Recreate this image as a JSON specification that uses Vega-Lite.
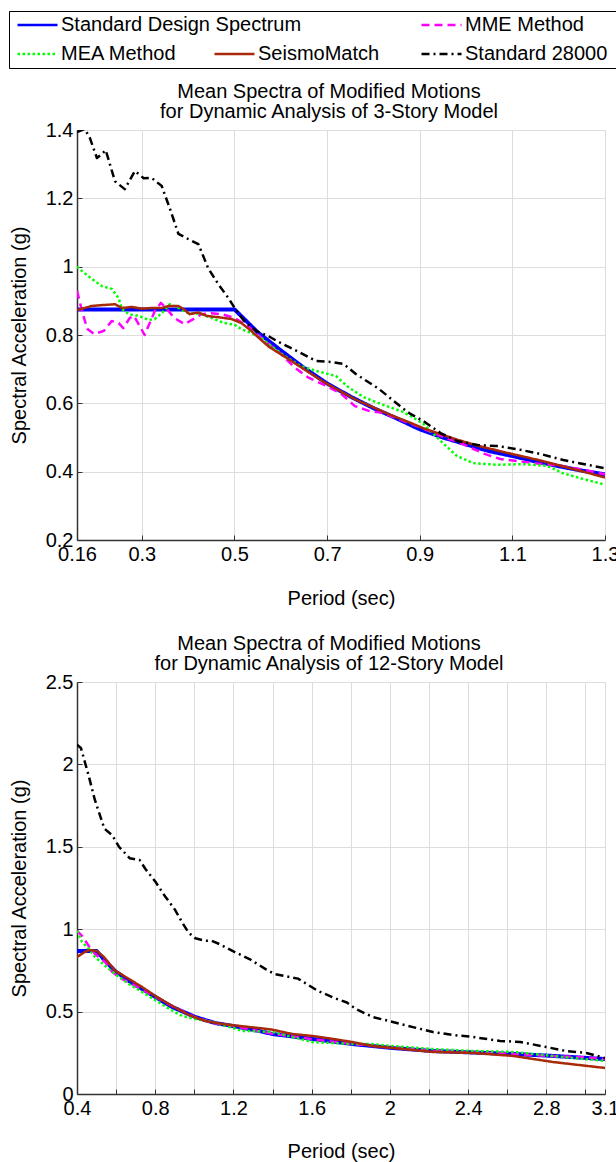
{
  "$schema": "https://vega.github.io/schema/vega-lite/v6.json",
  "padding": {"left": 8, "top": 10, "right": 0, "bottom": 0},
  "background": "white",
  "config": {
    "font": "Liberation Sans",
    "view": {"stroke": "#d4d4d4", "strokeWidth": 1},
    "axis": {
      "labelFont": "Liberation Sans", "labelFontSize": 20, "labelColor": "#000",
      "titleFont": "Liberation Sans", "titleFontSize": 20, "titleFontWeight": "normal", "titleColor": "#000",
      "gridColor": "#dddddd", "gridWidth": 1, "domainColor": "#333333", "domainWidth": 1.5,
      "tickColor": "#333333", "tickSize": -5, "labelPadding": 9, "labelFlush": false, "labelOverlap": false
    },
    "title": {"font": "Liberation Sans", "fontSize": 20, "fontWeight": "normal", "color": "#000", "lineHeight": 20, "offset": -2, "dx": -12, "frame": "group"},
    "legend": {"symbolType": "stroke", "symbolSize": 1600, "symbolStrokeWidth": 2.5, "labelFont": "Liberation Sans", "labelFontSize": 20,
               "labelColor": "#000", "labelOffset": 2, "labelLimit": 400, "padding": 0, "rowPadding": 9, "clipHeight": 20}
  },
  "datasets": {
    "m3": [
      {"s":"Standard Design Spectrum","T":0.16,"Sa":0.875},{"s":"Standard Design Spectrum","T":0.5,"Sa":0.875},{"s":"Standard Design Spectrum","T":0.55,"Sa":0.808},{"s":"Standard Design Spectrum","T":0.6,"Sa":0.755},{"s":"Standard Design Spectrum","T":0.65,"Sa":0.704},{"s":"Standard Design Spectrum","T":0.7,"Sa":0.658},{"s":"Standard Design Spectrum","T":0.75,"Sa":0.62},{"s":"Standard Design Spectrum","T":0.8,"Sa":0.586},{"s":"Standard Design Spectrum","T":0.85,"Sa":0.556},{"s":"Standard Design Spectrum","T":0.9,"Sa":0.524},{"s":"Standard Design Spectrum","T":0.95,"Sa":0.5},{"s":"Standard Design Spectrum","T":1.0,"Sa":0.48},{"s":"Standard Design Spectrum","T":1.05,"Sa":0.46},{"s":"Standard Design Spectrum","T":1.1,"Sa":0.446},{"s":"Standard Design Spectrum","T":1.15,"Sa":0.43},{"s":"Standard Design Spectrum","T":1.2,"Sa":0.416},{"s":"Standard Design Spectrum","T":1.25,"Sa":0.403},{"s":"Standard Design Spectrum","T":1.3,"Sa":0.392},
      {"s":"MME Method","T":0.16,"Sa":0.929},{"s":"MME Method","T":0.171,"Sa":0.87},{"s":"MME Method","T":0.182,"Sa":0.818},{"s":"MME Method","T":0.197,"Sa":0.803},{"s":"MME Method","T":0.218,"Sa":0.812},{"s":"MME Method","T":0.235,"Sa":0.841},{"s":"MME Method","T":0.25,"Sa":0.835},{"s":"MME Method","T":0.26,"Sa":0.82},{"s":"MME Method","T":0.274,"Sa":0.85},{"s":"MME Method","T":0.283,"Sa":0.856},{"s":"MME Method","T":0.293,"Sa":0.832},{"s":"MME Method","T":0.306,"Sa":0.8},{"s":"MME Method","T":0.328,"Sa":0.87},{"s":"MME Method","T":0.341,"Sa":0.894},{"s":"MME Method","T":0.354,"Sa":0.876},{"s":"MME Method","T":0.37,"Sa":0.85},{"s":"MME Method","T":0.392,"Sa":0.832},{"s":"MME Method","T":0.412,"Sa":0.847},{"s":"MME Method","T":0.429,"Sa":0.861},{"s":"MME Method","T":0.45,"Sa":0.864},{"s":"MME Method","T":0.472,"Sa":0.861},{"s":"MME Method","T":0.5,"Sa":0.85},{"s":"MME Method","T":0.53,"Sa":0.825},{"s":"MME Method","T":0.56,"Sa":0.79},{"s":"MME Method","T":0.6,"Sa":0.745},{"s":"MME Method","T":0.63,"Sa":0.705},{"s":"MME Method","T":0.66,"Sa":0.675},{"s":"MME Method","T":0.7,"Sa":0.65},{"s":"MME Method","T":0.73,"Sa":0.628},{"s":"MME Method","T":0.76,"Sa":0.592},{"s":"MME Method","T":0.79,"Sa":0.578},{"s":"MME Method","T":0.82,"Sa":0.572},{"s":"MME Method","T":0.85,"Sa":0.556},{"s":"MME Method","T":0.9,"Sa":0.53},{"s":"MME Method","T":0.95,"Sa":0.502},{"s":"MME Method","T":0.98,"Sa":0.488},{"s":"MME Method","T":1.01,"Sa":0.47},{"s":"MME Method","T":1.04,"Sa":0.452},{"s":"MME Method","T":1.074,"Sa":0.437},{"s":"MME Method","T":1.11,"Sa":0.431},{"s":"MME Method","T":1.153,"Sa":0.424},{"s":"MME Method","T":1.2,"Sa":0.418},{"s":"MME Method","T":1.252,"Sa":0.406},{"s":"MME Method","T":1.3,"Sa":0.392},
      {"s":"MEA Method","T":0.16,"Sa":1.0},{"s":"MEA Method","T":0.171,"Sa":0.987},{"s":"MEA Method","T":0.192,"Sa":0.964},{"s":"MEA Method","T":0.214,"Sa":0.943},{"s":"MEA Method","T":0.235,"Sa":0.935},{"s":"MEA Method","T":0.25,"Sa":0.908},{"s":"MEA Method","T":0.257,"Sa":0.876},{"s":"MEA Method","T":0.272,"Sa":0.861},{"s":"MEA Method","T":0.293,"Sa":0.856},{"s":"MEA Method","T":0.315,"Sa":0.844},{"s":"MEA Method","T":0.328,"Sa":0.847},{"s":"MEA Method","T":0.343,"Sa":0.864},{"s":"MEA Method","T":0.36,"Sa":0.89},{"s":"MEA Method","T":0.379,"Sa":0.879},{"s":"MEA Method","T":0.4,"Sa":0.864},{"s":"MEA Method","T":0.429,"Sa":0.861},{"s":"MEA Method","T":0.45,"Sa":0.85},{"s":"MEA Method","T":0.478,"Sa":0.835},{"s":"MEA Method","T":0.5,"Sa":0.83},{"s":"MEA Method","T":0.515,"Sa":0.817},{"s":"MEA Method","T":0.536,"Sa":0.806},{"s":"MEA Method","T":0.558,"Sa":0.791},{"s":"MEA Method","T":0.579,"Sa":0.768},{"s":"MEA Method","T":0.609,"Sa":0.738},{"s":"MEA Method","T":0.643,"Sa":0.709},{"s":"MEA Method","T":0.676,"Sa":0.695},{"s":"MEA Method","T":0.719,"Sa":0.68},{"s":"MEA Method","T":0.745,"Sa":0.648},{"s":"MEA Method","T":0.779,"Sa":0.618},{"s":"MEA Method","T":0.82,"Sa":0.596},{"s":"MEA Method","T":0.86,"Sa":0.577},{"s":"MEA Method","T":0.88,"Sa":0.563},{"s":"MEA Method","T":0.908,"Sa":0.54},{"s":"MEA Method","T":0.945,"Sa":0.49},{"s":"MEA Method","T":0.98,"Sa":0.446},{"s":"MEA Method","T":1.016,"Sa":0.425},{"s":"MEA Method","T":1.067,"Sa":0.42},{"s":"MEA Method","T":1.123,"Sa":0.422},{"s":"MEA Method","T":1.175,"Sa":0.417},{"s":"MEA Method","T":1.21,"Sa":0.395},{"s":"MEA Method","T":1.252,"Sa":0.379},{"s":"MEA Method","T":1.3,"Sa":0.362},
      {"s":"SeismoMatch","T":0.16,"Sa":0.873},{"s":"SeismoMatch","T":0.192,"Sa":0.885},{"s":"SeismoMatch","T":0.22,"Sa":0.888},{"s":"SeismoMatch","T":0.242,"Sa":0.89},{"s":"SeismoMatch","T":0.257,"Sa":0.879},{"s":"SeismoMatch","T":0.278,"Sa":0.882},{"s":"SeismoMatch","T":0.3,"Sa":0.877},{"s":"SeismoMatch","T":0.321,"Sa":0.879},{"s":"SeismoMatch","T":0.343,"Sa":0.879},{"s":"SeismoMatch","T":0.358,"Sa":0.885},{"s":"SeismoMatch","T":0.379,"Sa":0.885},{"s":"SeismoMatch","T":0.39,"Sa":0.876},{"s":"SeismoMatch","T":0.403,"Sa":0.861},{"s":"SeismoMatch","T":0.422,"Sa":0.866},{"s":"SeismoMatch","T":0.44,"Sa":0.856},{"s":"SeismoMatch","T":0.465,"Sa":0.852},{"s":"SeismoMatch","T":0.493,"Sa":0.847},{"s":"SeismoMatch","T":0.515,"Sa":0.835},{"s":"SeismoMatch","T":0.536,"Sa":0.812},{"s":"SeismoMatch","T":0.558,"Sa":0.785},{"s":"SeismoMatch","T":0.575,"Sa":0.765},{"s":"SeismoMatch","T":0.609,"Sa":0.736},{"s":"SeismoMatch","T":0.65,"Sa":0.7},{"s":"SeismoMatch","T":0.69,"Sa":0.665},{"s":"SeismoMatch","T":0.72,"Sa":0.642},{"s":"SeismoMatch","T":0.76,"Sa":0.612},{"s":"SeismoMatch","T":0.8,"Sa":0.588},{"s":"SeismoMatch","T":0.837,"Sa":0.566},{"s":"SeismoMatch","T":0.88,"Sa":0.543},{"s":"SeismoMatch","T":0.908,"Sa":0.527},{"s":"SeismoMatch","T":0.98,"Sa":0.494},{"s":"SeismoMatch","T":1.025,"Sa":0.476},{"s":"SeismoMatch","T":1.089,"Sa":0.455},{"s":"SeismoMatch","T":1.16,"Sa":0.433},{"s":"SeismoMatch","T":1.231,"Sa":0.408},{"s":"SeismoMatch","T":1.3,"Sa":0.383},
      {"s":"Standard 28000","T":0.16,"Sa":1.394},{"s":"Standard 28000","T":0.177,"Sa":1.403},{"s":"Standard 28000","T":0.188,"Sa":1.376},{"s":"Standard 28000","T":0.203,"Sa":1.318},{"s":"Standard 28000","T":0.214,"Sa":1.33},{"s":"Standard 28000","T":0.222,"Sa":1.341},{"s":"Standard 28000","T":0.231,"Sa":1.3},{"s":"Standard 28000","T":0.242,"Sa":1.25},{"s":"Standard 28000","T":0.263,"Sa":1.227},{"s":"Standard 28000","T":0.285,"Sa":1.28},{"s":"Standard 28000","T":0.304,"Sa":1.259},{"s":"Standard 28000","T":0.321,"Sa":1.26},{"s":"Standard 28000","T":0.343,"Sa":1.236},{"s":"Standard 28000","T":0.36,"Sa":1.172},{"s":"Standard 28000","T":0.379,"Sa":1.096},{"s":"Standard 28000","T":0.4,"Sa":1.081},{"s":"Standard 28000","T":0.422,"Sa":1.066},{"s":"Standard 28000","T":0.443,"Sa":0.996},{"s":"Standard 28000","T":0.465,"Sa":0.949},{"s":"Standard 28000","T":0.487,"Sa":0.908},{"s":"Standard 28000","T":0.5,"Sa":0.88},{"s":"Standard 28000","T":0.521,"Sa":0.841},{"s":"Standard 28000","T":0.547,"Sa":0.812},{"s":"Standard 28000","T":0.573,"Sa":0.797},{"s":"Standard 28000","T":0.592,"Sa":0.782},{"s":"Standard 28000","T":0.635,"Sa":0.753},{"s":"Standard 28000","T":0.676,"Sa":0.724},{"s":"Standard 28000","T":0.711,"Sa":0.721},{"s":"Standard 28000","T":0.736,"Sa":0.715},{"s":"Standard 28000","T":0.762,"Sa":0.686},{"s":"Standard 28000","T":0.812,"Sa":0.642},{"s":"Standard 28000","T":0.863,"Sa":0.586},{"s":"Standard 28000","T":0.88,"Sa":0.569},{"s":"Standard 28000","T":0.908,"Sa":0.548},{"s":"Standard 28000","T":0.945,"Sa":0.513},{"s":"Standard 28000","T":0.98,"Sa":0.49},{"s":"Standard 28000","T":1.025,"Sa":0.478},{"s":"Standard 28000","T":1.067,"Sa":0.475},{"s":"Standard 28000","T":1.11,"Sa":0.466},{"s":"Standard 28000","T":1.16,"Sa":0.452},{"s":"Standard 28000","T":1.21,"Sa":0.434},{"s":"Standard 28000","T":1.3,"Sa":0.41}
    ],
    "m12": [
      {"s":"Standard Design Spectrum","T":0.4,"Sa":0.868},{"s":"Standard Design Spectrum","T":0.5,"Sa":0.868},{"s":"Standard Design Spectrum","T":0.545,"Sa":0.807},{"s":"Standard Design Spectrum","T":0.595,"Sa":0.746},{"s":"Standard Design Spectrum","T":0.666,"Sa":0.686},{"s":"Standard Design Spectrum","T":0.733,"Sa":0.637},{"s":"Standard Design Spectrum","T":0.8,"Sa":0.589},{"s":"Standard Design Spectrum","T":0.887,"Sa":0.528},{"s":"Standard Design Spectrum","T":1.005,"Sa":0.467},{"s":"Standard Design Spectrum","T":1.108,"Sa":0.43},{"s":"Standard Design Spectrum","T":1.21,"Sa":0.41},{"s":"Standard Design Spectrum","T":1.333,"Sa":0.382},{"s":"Standard Design Spectrum","T":1.4,"Sa":0.364},{"s":"Standard Design Spectrum","T":1.605,"Sa":0.334},{"s":"Standard Design Spectrum","T":1.81,"Sa":0.303},{"s":"Standard Design Spectrum","T":2.015,"Sa":0.279},{"s":"Standard Design Spectrum","T":2.22,"Sa":0.261},{"s":"Standard Design Spectrum","T":2.425,"Sa":0.252},{"s":"Standard Design Spectrum","T":2.63,"Sa":0.243},{"s":"Standard Design Spectrum","T":2.835,"Sa":0.231},{"s":"Standard Design Spectrum","T":3.1,"Sa":0.212},
      {"s":"MME Method","T":0.4,"Sa":0.99},{"s":"MME Method","T":0.426,"Sa":0.959},{"s":"MME Method","T":0.46,"Sa":0.898},{"s":"MME Method","T":0.492,"Sa":0.85},{"s":"MME Method","T":0.545,"Sa":0.8},{"s":"MME Method","T":0.58,"Sa":0.74},{"s":"MME Method","T":0.63,"Sa":0.698},{"s":"MME Method","T":0.7,"Sa":0.655},{"s":"MME Method","T":0.8,"Sa":0.59},{"s":"MME Method","T":0.9,"Sa":0.525},{"s":"MME Method","T":1.0,"Sa":0.468},{"s":"MME Method","T":1.1,"Sa":0.43},{"s":"MME Method","T":1.2,"Sa":0.412},{"s":"MME Method","T":1.3,"Sa":0.388},{"s":"MME Method","T":1.4,"Sa":0.366},{"s":"MME Method","T":1.6,"Sa":0.333},{"s":"MME Method","T":1.8,"Sa":0.305},{"s":"MME Method","T":2.0,"Sa":0.282},{"s":"MME Method","T":2.2,"Sa":0.264},{"s":"MME Method","T":2.4,"Sa":0.252},{"s":"MME Method","T":2.6,"Sa":0.245},{"s":"MME Method","T":2.8,"Sa":0.232},{"s":"MME Method","T":3.0,"Sa":0.222},{"s":"MME Method","T":3.1,"Sa":0.212},
      {"s":"MEA Method","T":0.4,"Sa":0.99},{"s":"MEA Method","T":0.426,"Sa":0.922},{"s":"MEA Method","T":0.46,"Sa":0.88},{"s":"MEA Method","T":0.492,"Sa":0.831},{"s":"MEA Method","T":0.545,"Sa":0.777},{"s":"MEA Method","T":0.595,"Sa":0.728},{"s":"MEA Method","T":0.666,"Sa":0.667},{"s":"MEA Method","T":0.733,"Sa":0.619},{"s":"MEA Method","T":0.8,"Sa":0.57},{"s":"MEA Method","T":0.872,"Sa":0.516},{"s":"MEA Method","T":0.938,"Sa":0.473},{"s":"MEA Method","T":1.005,"Sa":0.455},{"s":"MEA Method","T":1.092,"Sa":0.437},{"s":"MEA Method","T":1.18,"Sa":0.407},{"s":"MEA Method","T":1.246,"Sa":0.382},{"s":"MEA Method","T":1.3,"Sa":0.382},{"s":"MEA Method","T":1.4,"Sa":0.376},{"s":"MEA Method","T":1.5,"Sa":0.346},{"s":"MEA Method","T":1.605,"Sa":0.315},{"s":"MEA Method","T":1.71,"Sa":0.309},{"s":"MEA Method","T":1.81,"Sa":0.303},{"s":"MEA Method","T":1.91,"Sa":0.303},{"s":"MEA Method","T":2.015,"Sa":0.291},{"s":"MEA Method","T":2.22,"Sa":0.273},{"s":"MEA Method","T":2.425,"Sa":0.261},{"s":"MEA Method","T":2.63,"Sa":0.255},{"s":"MEA Method","T":2.835,"Sa":0.231},{"s":"MEA Method","T":3.1,"Sa":0.2},
      {"s":"SeismoMatch","T":0.4,"Sa":0.831},{"s":"SeismoMatch","T":0.44,"Sa":0.862},{"s":"SeismoMatch","T":0.467,"Sa":0.874},{"s":"SeismoMatch","T":0.5,"Sa":0.868},{"s":"SeismoMatch","T":0.538,"Sa":0.831},{"s":"SeismoMatch","T":0.595,"Sa":0.748},{"s":"SeismoMatch","T":0.666,"Sa":0.698},{"s":"SeismoMatch","T":0.733,"Sa":0.649},{"s":"SeismoMatch","T":0.8,"Sa":0.595},{"s":"SeismoMatch","T":0.887,"Sa":0.534},{"s":"SeismoMatch","T":0.974,"Sa":0.479},{"s":"SeismoMatch","T":1.056,"Sa":0.443},{"s":"SeismoMatch","T":1.144,"Sa":0.425},{"s":"SeismoMatch","T":1.23,"Sa":0.413},{"s":"SeismoMatch","T":1.333,"Sa":0.4},{"s":"SeismoMatch","T":1.4,"Sa":0.39},{"s":"SeismoMatch","T":1.5,"Sa":0.364},{"s":"SeismoMatch","T":1.605,"Sa":0.352},{"s":"SeismoMatch","T":1.71,"Sa":0.334},{"s":"SeismoMatch","T":1.81,"Sa":0.315},{"s":"SeismoMatch","T":1.91,"Sa":0.291},{"s":"SeismoMatch","T":2.015,"Sa":0.279},{"s":"SeismoMatch","T":2.22,"Sa":0.255},{"s":"SeismoMatch","T":2.425,"Sa":0.249},{"s":"SeismoMatch","T":2.63,"Sa":0.231},{"s":"SeismoMatch","T":2.835,"Sa":0.194},{"s":"SeismoMatch","T":3.1,"Sa":0.158},
      {"s":"Standard 28000","T":0.4,"Sa":2.12},{"s":"Standard 28000","T":0.42,"Sa":2.1},{"s":"Standard 28000","T":0.46,"Sa":1.93},{"s":"Standard 28000","T":0.49,"Sa":1.79},{"s":"Standard 28000","T":0.54,"Sa":1.61},{"s":"Standard 28000","T":0.58,"Sa":1.57},{"s":"Standard 28000","T":0.615,"Sa":1.5},{"s":"Standard 28000","T":0.67,"Sa":1.43},{"s":"Standard 28000","T":0.72,"Sa":1.42},{"s":"Standard 28000","T":0.75,"Sa":1.365},{"s":"Standard 28000","T":0.8,"Sa":1.29},{"s":"Standard 28000","T":0.85,"Sa":1.2},{"s":"Standard 28000","T":0.9,"Sa":1.12},{"s":"Standard 28000","T":0.938,"Sa":1.04},{"s":"Standard 28000","T":0.97,"Sa":0.98},{"s":"Standard 28000","T":1.005,"Sa":0.945},{"s":"Standard 28000","T":1.056,"Sa":0.93},{"s":"Standard 28000","T":1.087,"Sa":0.93},{"s":"Standard 28000","T":1.128,"Sa":0.91},{"s":"Standard 28000","T":1.195,"Sa":0.868},{"s":"Standard 28000","T":1.282,"Sa":0.819},{"s":"Standard 28000","T":1.364,"Sa":0.758},{"s":"Standard 28000","T":1.41,"Sa":0.728},{"s":"Standard 28000","T":1.53,"Sa":0.7},{"s":"Standard 28000","T":1.63,"Sa":0.627},{"s":"Standard 28000","T":1.71,"Sa":0.585},{"s":"Standard 28000","T":1.78,"Sa":0.555},{"s":"Standard 28000","T":1.826,"Sa":0.516},{"s":"Standard 28000","T":1.913,"Sa":0.467},{"s":"Standard 28000","T":2.015,"Sa":0.437},{"s":"Standard 28000","T":2.118,"Sa":0.406},{"s":"Standard 28000","T":2.22,"Sa":0.376},{"s":"Standard 28000","T":2.323,"Sa":0.358},{"s":"Standard 28000","T":2.425,"Sa":0.346},{"s":"Standard 28000","T":2.564,"Sa":0.322},{"s":"Standard 28000","T":2.667,"Sa":0.316},{"s":"Standard 28000","T":2.8,"Sa":0.285},{"s":"Standard 28000","T":2.9,"Sa":0.261},{"s":"Standard 28000","T":3.005,"Sa":0.249},{"s":"Standard 28000","T":3.1,"Sa":0.218}
    ]
  },
  "spacing": 24,
  "vconcat": [
    {
      "data": {"name": "m3"},
      "width": 528,
      "height": 410,
      "title": {"text": ["Mean Spectra of Modified Motions", "for Dynamic Analysis of 3-Story Model"]},
      "mark": {"type": "line", "clip": true, "strokeCap": "butt", "strokeJoin": "round"},
      "encoding": {
        "x": {"field": "T", "type": "quantitative", "title": "Period (sec)",
              "scale": {"domain": [0.16, 1.3], "nice": false, "zero": false},
              "axis": {"values": [0.16, 0.3, 0.5, 0.7, 0.9, 1.1, 1.3], "format": "~g", "titlePadding": 24}},
        "y": {"field": "Sa", "type": "quantitative", "title": "Spectral Acceleration (g)",
              "scale": {"domain": [0.2, 1.4], "nice": false, "zero": false},
              "axis": {"values": [0.2, 0.4, 0.6, 0.8, 1.0, 1.2, 1.4], "format": "~g", "titlePadding": 16}},
        "color": {"field": "s", "type": "nominal",
                  "scale": {"domain": ["Standard Design Spectrum", "MME Method", "MEA Method", "SeismoMatch", "Standard 28000"],
                            "range": ["#0000ff", "#ff00ff", "#00ff00", "#a82a08", "#000000"]},
                  "legend": {"orient": "none", "legendX": -61, "legendY": -115, "direction": "vertical", "columns": 1,
                             "values": ["Standard Design Spectrum", "MEA Method"], "title": null,
                             "encode": {"symbols": {"update": {"stroke": {"scale": "color", "field": "value"}, "strokeDash": {"scale": "strokeDash", "field": "value"}, "strokeWidth": {"value": 2.5}, "opacity": {"value": 1}, "strokeOpacity": {"value": 1}}}}}},
        "strokeDash": {"field": "s", "type": "nominal",
                       "scale": {"domain": ["MME Method", "Standard Design Spectrum", "MEA Method", "SeismoMatch", "Standard 28000"],
                                 "range": [[8, 5], [1, 0], [2.5, 2.5], [1, 0], [8, 4, 2, 4]]},
                       "legend": {"orient": "none", "legendX": 136, "legendY": -86, "direction": "vertical", "columns": 1,
                                  "values": ["SeismoMatch"], "title": null,
                                  "encode": {"symbols": {"update": {"stroke": {"scale": "color", "field": "value"}, "strokeDash": {"scale": "strokeDash", "field": "value"}, "strokeWidth": {"value": 2.5}, "opacity": {"value": 1}, "strokeOpacity": {"value": 1}}}}}},
        "opacity": {"field": "s", "type": "nominal",
                    "scale": {"domain": ["MEA Method", "Standard Design Spectrum", "MME Method", "SeismoMatch", "Standard 28000"], "range": [1, 1]},
                    "legend": {"orient": "none", "legendX": 343, "legendY": -115, "direction": "vertical", "columns": 1,
                               "values": ["MME Method", "Standard 28000"], "title": null,
                               "encode": {"symbols": {"update": {"stroke": {"scale": "color", "field": "value"}, "strokeDash": {"scale": "strokeDash", "field": "value"}, "strokeWidth": {"value": 2.5}, "opacity": {"value": 1}, "strokeOpacity": {"value": 1}}}}}},
        "strokeWidth": {"field": "s", "type": "nominal",
                        "condition": {"test": "datum.s === 'Standard Design Spectrum'", "value": 4},
                        "scale": {"domain": ["SeismoMatch", "Standard Design Spectrum", "MME Method", "MEA Method", "Standard 28000"], "range": [2.5, 2.5]},
                        "legend": {"orient": "none", "legendX": -68, "legendY": -119, "direction": "vertical", "columns": 1,
                                   "values": ["Standard Design Spectrum"], "title": null, "labelExpr": "''",
                                   "symbolSize": 348100, "symbolStrokeWidth": 0, "labelOffset": 0,
                                   "clipHeight": 43, "padding": 7, "strokeColor": "#000", "symbolOpacity": 0}}
      }
    },
    {
      "data": {"name": "m12"},
      "width": 528,
      "height": 412,
      "title": {"text": ["Mean Spectra of Modified Motions", "for Dynamic Analysis of 12-Story Model"]},
      "mark": {"type": "line", "clip": true, "strokeCap": "butt", "strokeJoin": "round"},
      "encoding": {
        "x": {"field": "T", "type": "quantitative", "title": "Period (sec)",
              "scale": {"domain": [0.4, 3.1], "nice": false, "zero": false},
              "axis": {"values": [0.4, 0.6, 0.8, 1.0, 1.2, 1.4, 1.6, 1.8, 2.0, 2.2, 2.4, 2.6, 2.8, 3.0, 3.1], "format": "~g",
                       "labelExpr": "(datum.value == 3.1 || round(datum.value * 10) % 4 == 0) ? datum.label : ''", "titlePadding": 23}},
        "y": {"field": "Sa", "type": "quantitative", "title": "Spectral Acceleration (g)",
              "scale": {"domain": [0, 2.5], "nice": false},
              "axis": {"values": [0, 0.5, 1.0, 1.5, 2.0, 2.5], "format": "~g", "titlePadding": 16}},
        "color": {"field": "s", "type": "nominal",
                  "scale": {"domain": ["Standard Design Spectrum", "MME Method", "MEA Method", "SeismoMatch", "Standard 28000"],
                            "range": ["#0000ff", "#ff00ff", "#00ff00", "#a82a08", "#000000"]},
                  "legend": {"orient": "none", "legendX": -61, "legendY": -115, "direction": "vertical", "columns": 1,
                             "values": ["Standard Design Spectrum", "MEA Method"], "title": null,
                             "encode": {"symbols": {"update": {"stroke": {"scale": "color", "field": "value"}, "strokeDash": {"scale": "strokeDash", "field": "value"}, "strokeWidth": {"value": 2.5}, "opacity": {"value": 1}, "strokeOpacity": {"value": 1}}}}}},
        "strokeDash": {"field": "s", "type": "nominal",
                       "scale": {"domain": ["MME Method", "Standard Design Spectrum", "MEA Method", "SeismoMatch", "Standard 28000"],
                                 "range": [[8, 5], [1, 0], [2.5, 2.5], [1, 0], [8, 4, 2, 4]]},
                       "legend": {"orient": "none", "legendX": 136, "legendY": -86, "direction": "vertical", "columns": 1,
                                  "values": ["SeismoMatch"], "title": null,
                                  "encode": {"symbols": {"update": {"stroke": {"scale": "color", "field": "value"}, "strokeDash": {"scale": "strokeDash", "field": "value"}, "strokeWidth": {"value": 2.5}, "opacity": {"value": 1}, "strokeOpacity": {"value": 1}}}}}},
        "opacity": {"field": "s", "type": "nominal",
                    "scale": {"domain": ["MEA Method", "Standard Design Spectrum", "MME Method", "SeismoMatch", "Standard 28000"], "range": [1, 1]},
                    "legend": {"orient": "none", "legendX": 343, "legendY": -115, "direction": "vertical", "columns": 1,
                               "values": ["MME Method", "Standard 28000"], "title": null,
                               "encode": {"symbols": {"update": {"stroke": {"scale": "color", "field": "value"}, "strokeDash": {"scale": "strokeDash", "field": "value"}, "strokeWidth": {"value": 2.5}, "opacity": {"value": 1}, "strokeOpacity": {"value": 1}}}}}},
        "strokeWidth": {"field": "s", "type": "nominal",
                        "condition": {"test": "datum.s === 'Standard Design Spectrum'", "value": 4},
                        "scale": {"domain": ["SeismoMatch", "Standard Design Spectrum", "MME Method", "MEA Method", "Standard 28000"], "range": [2.5, 2.5]},
                        "legend": {"orient": "none", "legendX": -68, "legendY": -119, "direction": "vertical", "columns": 1,
                                   "values": ["Standard Design Spectrum"], "title": null, "labelExpr": "''",
                                   "symbolSize": 348100, "symbolStrokeWidth": 0, "labelOffset": 0,
                                   "clipHeight": 43, "padding": 7, "strokeColor": "#000", "symbolOpacity": 0}}
      }
    }
  ]
}
